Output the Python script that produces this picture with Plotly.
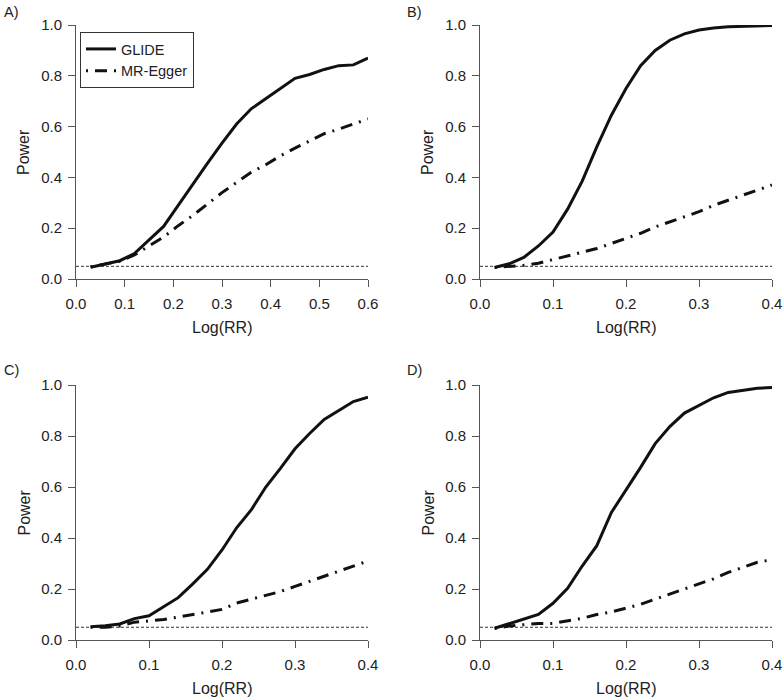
import plotly.graph_objects as go

# ---- data ----
x_A = [0.03, 0.06, 0.09, 0.12, 0.15, 0.18, 0.21, 0.24, 0.27, 0.30,
       0.33, 0.36, 0.39, 0.42, 0.45, 0.48, 0.51, 0.54, 0.57, 0.60]
glide_A = [0.046, 0.058, 0.072, 0.10, 0.155, 0.207, 0.29, 0.375, 0.455, 0.535,
           0.61, 0.67, 0.71, 0.75, 0.79, 0.805, 0.825, 0.84, 0.843, 0.87]
egger_A = [0.048, 0.058, 0.07, 0.095, 0.13, 0.165, 0.21, 0.25, 0.295, 0.34,
           0.38, 0.42, 0.45, 0.485, 0.515, 0.545, 0.572, 0.59, 0.61, 0.63]

x_BCD = [0.02, 0.04, 0.06, 0.08, 0.10, 0.12, 0.14, 0.16, 0.18, 0.20,
         0.22, 0.24, 0.26, 0.28, 0.30, 0.32, 0.34, 0.36, 0.38, 0.40]
glide_B = [0.045, 0.06, 0.085, 0.13, 0.185, 0.275, 0.385, 0.52, 0.645, 0.75,
           0.84, 0.90, 0.94, 0.965, 0.98, 0.988, 0.993, 0.995, 0.997, 0.998]
egger_B = [0.045, 0.05, 0.054, 0.062, 0.076, 0.09, 0.105, 0.12, 0.14, 0.16,
           0.18, 0.205, 0.225, 0.245, 0.265, 0.29, 0.31, 0.33, 0.35, 0.37]
glide_C = [0.052, 0.056, 0.063, 0.084, 0.095, 0.13, 0.166, 0.22, 0.277, 0.353,
           0.44, 0.51, 0.60, 0.673, 0.75, 0.81, 0.865, 0.90, 0.935, 0.952]
egger_C = [0.05, 0.05, 0.055, 0.07, 0.075, 0.08, 0.09, 0.10, 0.11, 0.12,
           0.145, 0.16, 0.175, 0.19, 0.21, 0.23, 0.25, 0.27, 0.29, 0.31]
glide_D = [0.046, 0.065, 0.082, 0.10, 0.144, 0.203, 0.29, 0.37, 0.50, 0.588,
           0.677, 0.77, 0.837, 0.89, 0.92, 0.95, 0.971, 0.98, 0.987, 0.99]
egger_D = [0.045, 0.055, 0.06, 0.065, 0.065, 0.075, 0.085, 0.10, 0.11, 0.125,
           0.14, 0.16, 0.18, 0.20, 0.22, 0.24, 0.265, 0.285, 0.305, 0.315]

alpha_level = 0.05
panel_labels = ["A)", "B)", "C)", "D)"]
series_names = ["GLIDE", "MR-Egger"]
x_title = "Log(RR)"
y_title = "Power"
x_ticks_A = [0.0, 0.1, 0.2, 0.3, 0.4, 0.5, 0.6]
x_ticks_BCD = [0.0, 0.1, 0.2, 0.3, 0.4]
y_ticks = [0.0, 0.2, 0.4, 0.6, 0.8, 1.0]

# ---- layout geometry (pixels) ----
W, H = 784, 697
FONT = "Liberation Sans, Arial, sans-serif"
FS_TICK = 15
FS_TITLE = 16
FS_LEG = 14.5
FS_LAB = 14.5
AX = "#555555"
TXT = "#222222"

panels = [
    dict(x=x_A, g=glide_A, e=egger_A, xmax=0.6, ticks=x_ticks_A,
         left=76, right=368, top=25, bottom=279, lab=(2, 12)),
    dict(x=x_BCD, g=glide_B, e=egger_B, xmax=0.4, ticks=x_ticks_BCD,
         left=480, right=772, top=25, bottom=279, lab=(405, 12)),
    dict(x=x_BCD, g=glide_C, e=egger_C, xmax=0.4, ticks=x_ticks_BCD,
         left=76, right=368, top=385, bottom=640, lab=(2, 370)),
    dict(x=x_BCD, g=glide_D, e=egger_D, xmax=0.4, ticks=x_ticks_BCD,
         left=480, right=772, top=385, bottom=640, lab=(405, 370)),
]

fig = go.Figure()
layout = dict(
    width=W, height=H,
    margin=dict(l=0, r=0, t=0, b=0, autoexpand=False),
    paper_bgcolor="white", plot_bgcolor="white",
    font=dict(family=FONT, size=FS_TICK, color=TXT),
    showlegend=True,
    legend=dict(x=80 / W, y=1 - 32 / H, xanchor="left", yanchor="top",
                bordercolor="#333333", borderwidth=1, bgcolor="white",
                font=dict(size=FS_LEG, color=TXT), tracegroupgap=0,
                itemwidth=30),
    annotations=[],
)

for i, p in enumerate(panels):
    n = "" if i == 0 else str(i + 1)
    xa, ya = "x" + n, "y" + n
    fig.add_trace(go.Scatter(x=[0, p["xmax"]], y=[alpha_level, alpha_level],
                             mode="lines", xaxis=xa, yaxis=ya, showlegend=False,
                             line=dict(color="#333333", width=1, dash="3px,2px"),
                             hoverinfo="skip"))
    fig.add_trace(go.Scatter(x=p["x"], y=p["e"], mode="lines", name=series_names[1],
                             xaxis=xa, yaxis=ya, showlegend=(i == 0), legendrank=2,
                             line=dict(color="#111111", width=3, dash="2px,7px,12px,7px")))
    fig.add_trace(go.Scatter(x=p["x"], y=p["g"], mode="lines", name=series_names[0],
                             xaxis=xa, yaxis=ya, showlegend=(i == 0), legendrank=1,
                             line=dict(color="#111111", width=3)))
    common = dict(showgrid=False, zeroline=False, showline=True, linecolor=AX,
                  linewidth=1, ticks="outside", ticklen=7, tickwidth=1,
                  tickcolor=AX, tickfont=dict(size=FS_TICK, color=TXT),
                  automargin=False)
    layout["xaxis" + n] = dict(common, domain=[p["left"] / W, p["right"] / W],
                               range=[0, p["xmax"]], tickvals=p["ticks"],
                               ticktext=["%.1f" % t for t in p["ticks"]],
                               anchor=ya, ticklabelstandoff=4)
    layout["yaxis" + n] = dict(common, domain=[1 - p["bottom"] / H, 1 - p["top"] / H],
                               range=[0, 1], tickvals=y_ticks,
                               ticktext=["%.1f" % t for t in y_ticks],
                               anchor=xa, ticklabelstandoff=3)
    # axis titles
    layout["annotations"].append(dict(
        text=x_title, xref="paper", yref="paper",
        x=(p["left"] + p["right"]) / 2 / W, y=1 - (p["bottom"] + 48) / H,
        xanchor="center", yanchor="middle", showarrow=False,
        font=dict(size=FS_TITLE, color=TXT)))
    layout["annotations"].append(dict(
        text=y_title, xref="paper", yref="paper", textangle=-90,
        x=(p["left"] - 52) / W, y=1 - (p["top"] + p["bottom"]) / 2 / H,
        xanchor="center", yanchor="middle", showarrow=False,
        font=dict(size=FS_TITLE, color=TXT)))
    lx, ly = p["lab"]
    layout["annotations"].append(dict(
        text=panel_labels[i], xref="paper", yref="paper",
        x=lx / W, y=1 - ly / H, xanchor="left", yanchor="middle",
        showarrow=False, font=dict(size=FS_LAB, color=TXT)))

fig.update_layout(**layout)
fig.write_html("out.html",
               config={"displayModeBar": False},
               post_script="document.body.style.margin='0';"
                           "document.body.style.overflow='hidden';")
